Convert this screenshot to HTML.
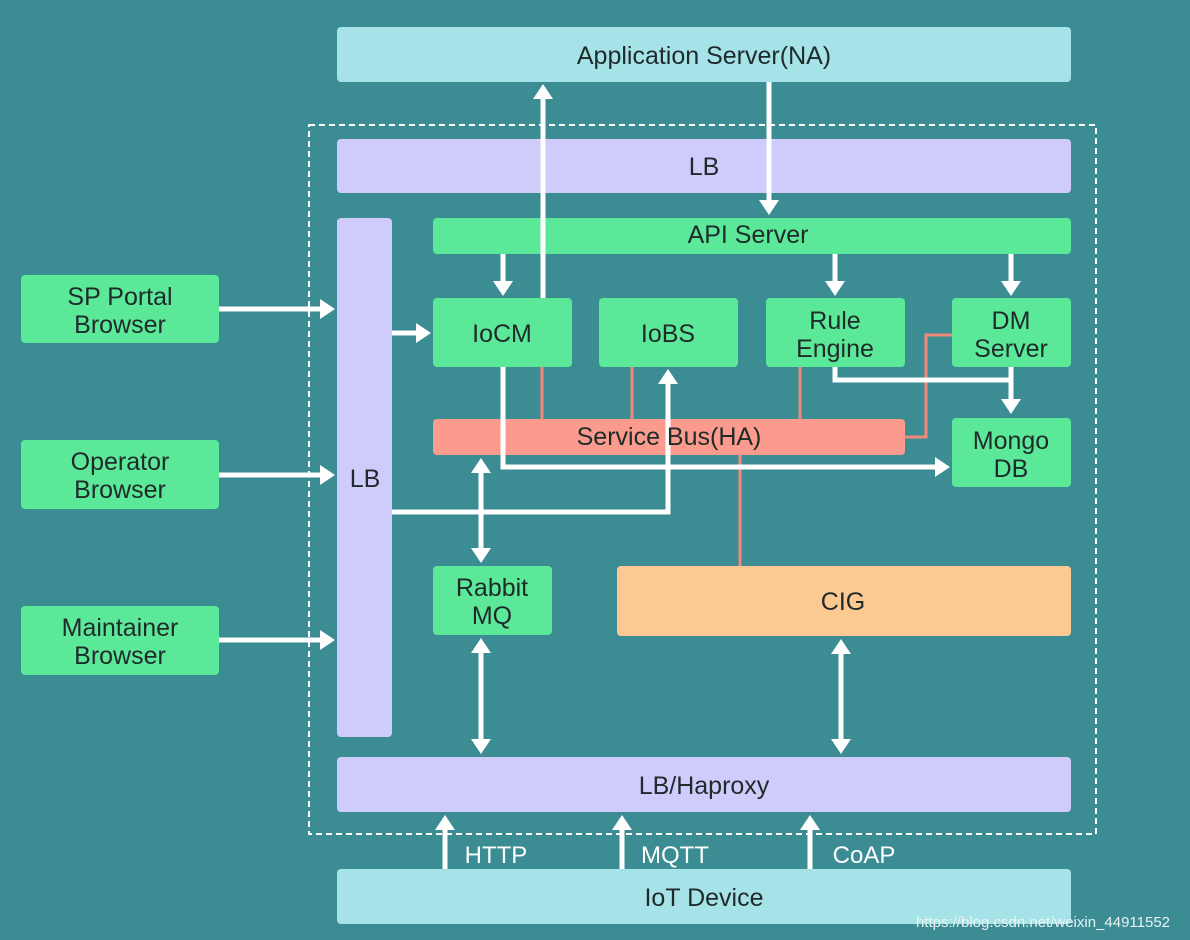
<!DOCTYPE html>
<html><head><meta charset="utf-8"><style>
html,body{margin:0;padding:0;background:#3b8c93;}
svg{display:block}
text{font-family:"Liberation Sans",sans-serif;fill:#1f2a2a;text-anchor:middle;}
</style></head><body>
<svg width="1190" height="940" viewBox="0 0 1190 940" xmlns="http://www.w3.org/2000/svg">
<defs>
<marker id="a" markerWidth="4" markerHeight="4" refX="2.2" refY="2" orient="auto" markerUnits="strokeWidth"><path d="M0,0 L3,2 L0,4 z" fill="#fff"/></marker>
<marker id="s" markerWidth="4" markerHeight="4" refX="0.8" refY="2" orient="auto" markerUnits="strokeWidth"><path d="M3,0 L0,2 L3,4 z" fill="#fff"/></marker>
</defs>
<rect width="1190" height="940" fill="#3b8c93"/>
<rect x="309" y="125" width="787" height="709" fill="none" stroke="#fff" stroke-width="2" stroke-dasharray="6,4"/>
<g stroke="#f2897b" stroke-width="3" fill="none">
<path d="M542 367V420M632 367V420M800 367V420M740 455V567M952 335H926V437H905"/>
</g>
<g>
<rect x="337" y="27" width="734" height="55" rx="4" fill="#a6e3e8"/>
<rect x="337" y="139" width="734" height="54" rx="4" fill="#cfccfb"/>
<rect x="337" y="218" width="55" height="519" rx="4" fill="#cfccfb"/>
<rect x="433" y="218" width="638" height="36" rx="4" fill="#5be898"/>
<rect x="433" y="298" width="139" height="69" rx="4" fill="#5be898"/>
<rect x="599" y="298" width="139" height="69" rx="4" fill="#5be898"/>
<rect x="766" y="298" width="139" height="69" rx="4" fill="#5be898"/>
<rect x="952" y="298" width="119" height="69" rx="4" fill="#5be898"/>
<rect x="433" y="419" width="472" height="36" rx="4" fill="#fb9b8d"/>
<rect x="952" y="418" width="119" height="69" rx="4" fill="#5be898"/>
<rect x="433" y="566" width="119" height="69" rx="4" fill="#5be898"/>
<rect x="617" y="566" width="454" height="70" rx="4" fill="#fdc992"/>
<rect x="337" y="757" width="734" height="55" rx="4" fill="#cfccfb"/>
<rect x="337" y="869" width="734" height="55" rx="4" fill="#a6e3e8"/>
<rect x="21" y="275" width="198" height="68" rx="4" fill="#5be898"/>
<rect x="21" y="440" width="198" height="69" rx="4" fill="#5be898"/>
<rect x="21" y="606" width="198" height="69" rx="4" fill="#5be898"/>
</g>
<g stroke="#fff" stroke-width="5" fill="none">
<path d="M543 298V88" marker-end="url(#a)"/>
<path d="M769 82V211" marker-end="url(#a)"/>
<path d="M503 254V292" marker-end="url(#a)"/>
<path d="M835 254V292" marker-end="url(#a)"/>
<path d="M1011 254V292" marker-end="url(#a)"/>
<path d="M219 309H331" marker-end="url(#a)"/>
<path d="M219 475H331" marker-end="url(#a)"/>
<path d="M219 640H331" marker-end="url(#a)"/>
<path d="M392 333H427" marker-end="url(#a)"/>
<path d="M503 367V467H946" marker-end="url(#a)"/>
<path d="M835 367V380H1011"/>
<path d="M1011 367V410" marker-end="url(#a)"/>
<path d="M392 512H668V373" marker-end="url(#a)"/>
<path d="M481 462V559" marker-start="url(#s)" marker-end="url(#a)"/>
<path d="M481 642V750" marker-start="url(#s)" marker-end="url(#a)"/>
<path d="M841 643V750" marker-start="url(#s)" marker-end="url(#a)"/>
<path d="M445 869V819" marker-end="url(#a)"/>
<path d="M622 869V819" marker-end="url(#a)"/>
<path d="M810 869V819" marker-end="url(#a)"/>
</g>
<g font-size="25">
<text x="704" y="64">Application Server(NA)</text>
<text x="704" y="175">LB</text>
<text x="365" y="487">LB</text>
<text x="748" y="243">API Server</text>
<text x="502" y="342">IoCM</text>
<text x="668" y="342">IoBS</text>
<text x="835" y="329">Rule</text><text x="835" y="357">Engine</text>
<text x="1011" y="329">DM</text><text x="1011" y="357">Server</text>
<text x="669" y="445">Service Bus(HA)</text>
<text x="1011" y="449">Mongo</text><text x="1011" y="477">DB</text>
<text x="492" y="596">Rabbit</text><text x="492" y="624">MQ</text>
<text x="843" y="610">CIG</text>
<text x="704" y="794">LB/Haproxy</text>
<text x="704" y="906">IoT Device</text>
<text x="120" y="305">SP Portal</text><text x="120" y="333">Browser</text>
<text x="120" y="470">Operator</text><text x="120" y="498">Browser</text>
<text x="120" y="636">Maintainer</text><text x="120" y="664">Browser</text>
</g>
<g font-size="24">
<text x="496" y="863" style="fill:#fff">HTTP</text>
<text x="675" y="863" style="fill:#fff">MQTT</text>
<text x="864" y="863" style="fill:#fff">CoAP</text>
</g>
<text x="1043" y="927" font-size="15" style="fill:#e8f4f4">https://blog.csdn.net/weixin_44911552</text>
</svg>
</body></html>
